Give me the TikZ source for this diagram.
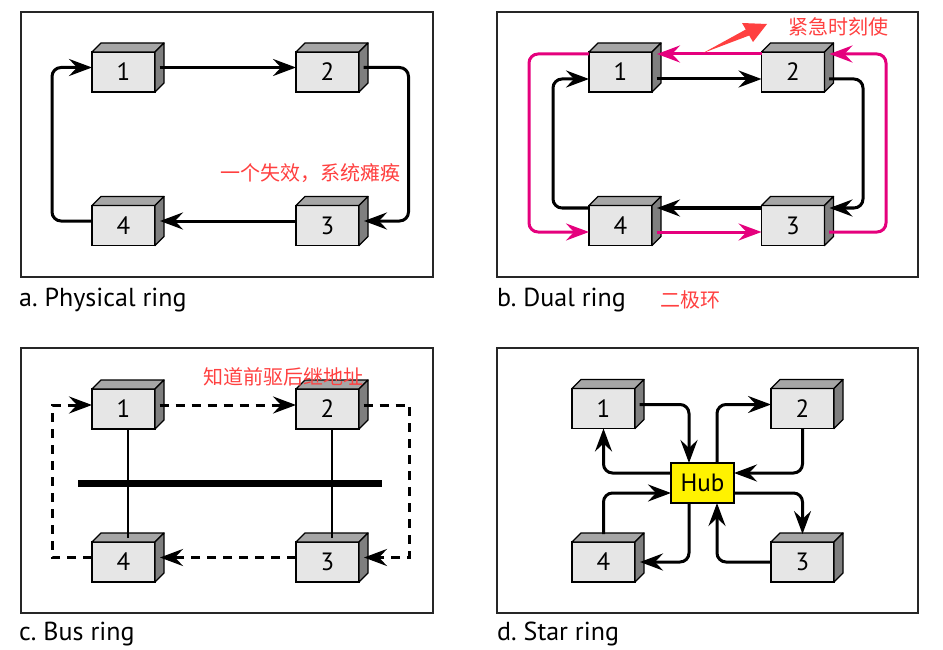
\documentclass[tikz,border=0pt]{standalone}
\usepackage{fontspec}
\setmainfont{PT Sans}
\newfontfamily\cjk{Noto Sans CJK SC}
\usetikzlibrary{arrows.meta}
\frenchspacing
\definecolor{boxfront}{HTML}{E6E6E6}
\definecolor{boxtop}{HTML}{A6A6A6}
\definecolor{boxside}{HTML}{7F7F7F}
\definecolor{ringpink}{HTML}{E5007D}
\definecolor{notered}{HTML}{FF4040}
\tikzset{
  station/.style={rectangle, draw, fill=boxfront, line width=1.3pt, minimum width=63pt, minimum height=40pt, inner sep=0pt, outer sep=0pt, font=\fontsize{25}{25}\selectfont},
  hubbox/.style={station, fill=yellow},
  link/.style={line width=3pt, line join=round, rounded corners=9pt, -{Stealth[length=23pt,width=17pt,inset=8pt]}},
  pinklink/.style={link, draw=ringpink, color=ringpink},
  dashlink/.style={link, rounded corners=0pt, line join=miter, dash pattern=on 9pt off 7pt},
  tap/.style={line width=2.2pt},
  bus/.style={line width=7pt},
  frame/.style={draw=black!85, line width=1.5pt},
  caption/.style={anchor=base west, inner sep=0pt, font=\fontsize{26}{26}\selectfont},
  note/.style={text=notered, inner sep=0pt, font=\cjk\fontsize{20}{20}\selectfont}
}
\begin{document}
\begin{tikzpicture}[x=1pt, y=-1pt]
      \useasboundingbox (0,0) rectangle (943,650);
      \draw[frame] (21,12) rectangle (433,277);
      \draw[frame] (497,12) rectangle (918,277);
      \draw[frame] (21,348) rectangle (433,613);
      \draw[frame] (497,348) rectangle (918,613);

      \node (a1) at (123.5,72) [station] {1};
      \node (a2) at (327.5,72) [station] {2};
      \node (a3) at (327.5,225.5) [station] {3};
      \node (a4) at (123.5,225.5) [station] {4};
      \node (b1) at (620.5,72) [station] {1};
      \node (b2) at (793,72) [station] {2};
      \node (b3) at (793,225.5) [station] {3};
      \node (b4) at (620.5,225.5) [station] {4};
      \node (c1) at (123.5,409) [station] {1};
      \node (c2) at (327.5,409) [station] {2};
      \node (c3) at (327.5,562) [station] {3};
      \node (c4) at (123.5,562) [station] {4};
      \node (d1) at (603.5,408.5) [station] {1};
      \node (d2) at (802.5,408.5) [station] {2};
      \node (d3) at (802.5,562) [station] {3};
      \node (d4) at (603.5,562) [station] {4};
      \node (hub) at (702.5,483) [hubbox] {Hub};
      \foreach \n in {a1,a2,a3,a4,b1,b2,b3,b4,c1,c2,c3,c4,d1,d2,d3,d4} {
        \draw[fill=boxtop, line width=1.3pt, line join=round] (\n.north west) -- ++(9,-9) -- ++(63,0) -- (\n.north east) -- cycle;
        \draw[fill=boxside, line width=1.3pt, line join=round] (\n.north east) -- ++(9,-9) -- ++(0,40) -- (\n.south east) -- cycle;
      }

      % a. physical ring
      \draw[link] ([shift={(4.5pt,4.5pt)}]a1.east) -- ([yshift=4.5pt]a2.west);
      \draw[link] ([shift={(4.5pt,4.5pt)}]a2.east) -- ++(45,0) |- ([shift={(5pt,4.5pt)}]a3.east);
      \draw[link] ([yshift=4.5pt]a3.west) -- ([shift={(5pt,4.5pt)}]a4.east);
      \draw[link] ([yshift=4.5pt]a4.west) -- ++(-40,0) |- ([yshift=4.5pt]a1.west);
      \node (failnote) at (310,173) [note] {一个失效，系统瘫痪};
      \node (capa) at (19,306) [caption] {a. Physical ring};

      % b. dual ring
      \draw[link] ([shift={(4.5pt,-7pt)}]b1.east) -- ([yshift=-7pt]b2.west);
      \draw[link] ([shift={(4.5pt,-7pt)}]b2.east) -- ++(34,0) |- ([shift={(5pt,17.5pt)}]b3.east);
      \draw[link] ([yshift=17.5pt]b3.west) -- ([shift={(5pt,17.5pt)}]b4.east);
      \draw[link] ([yshift=17.5pt]b4.west) -- ++(-36,0) |- ([yshift=-7pt]b1.west);
      \draw[pinklink] ([yshift=18pt]b2.west) -- ([shift={(5pt,18pt)}]b1.east);
      \draw[pinklink] ([yshift=18pt]b1.west) -- ++(-60,0) |- ([yshift=-6.5pt]b4.west);
      \draw[pinklink] ([shift={(4.5pt,-6.5pt)}]b4.east) -- ([yshift=-6.5pt]b3.west);
      \draw[pinklink] ([shift={(4.5pt,-6.5pt)}]b3.east) -- ++(57,0) |- ([shift={(5pt,18pt)}]b2.east);
      \fill[notered] (703,53) -- (745.8,29.5) -- (742,23) -- (767,24) -- (753,42) -- (749.2,35.5) -- cycle;
      \node (urgentnote) at (838,27) [note] {紧急时刻使};
      \node (dualnote) at (690,300) [note] {二极环};
      \node (capb) at (497,306) [caption] {b. Dual ring};

      % c. bus ring
      \coordinate (busL) at (78,483);
      \coordinate (busR) at (382,483);
      \draw[bus] (busL) -- (busR);
      \draw[tap] ([xshift=4.5pt]c1.south) -- ([shift={(4.5pt,4pt)}]c4.north);
      \draw[tap] ([xshift=4.5pt]c2.south) -- ([shift={(4.5pt,4pt)}]c3.north);
      \draw[dashlink] ([shift={(4.5pt,4pt)}]c1.east) -- ([yshift=4pt]c2.west);
      \draw[dashlink] ([shift={(4.5pt,4pt)}]c2.east) -- ++(46,0) |- ([shift={(5pt,4.5pt)}]c3.east);
      \draw[dashlink] ([yshift=4.5pt]c3.west) -- ([shift={(5pt,4.5pt)}]c4.east);
      \draw[dashlink] ([yshift=4.5pt]c4.west) -- ++(-40,0) |- ([yshift=4pt]c1.west);
      \node (addrnote) at (283,377) [note] {知道前驱后继地址};
      \node (capc) at (19,640) [caption] {c. Bus ring};

      % d. star ring
      \draw[link] ([shift={(4.5pt,4pt)}]d1.east) -| ([xshift=-13.5pt]hub.north);
      \draw[link] ([yshift=10pt]hub.west) -| (d1.south);
      \draw[link] ([xshift=14.5pt]hub.north) |- ([yshift=4pt]d2.west);
      \draw[link] (d2.south) |- ([yshift=10pt]hub.east);
      \draw[link] ([yshift=-10pt]hub.east) -| ([yshift=8pt]d3.north);
      \draw[link] (d3.west) -| ([xshift=14.5pt]hub.south);
      \draw[link] ([yshift=8pt]d4.north) |- ([yshift=-10pt]hub.west);
      \draw[link] ([xshift=-13.5pt]hub.south) |- ([xshift=5pt]d4.east);
      \node (capd) at (497,640) [caption] {d. Star ring};
\end{tikzpicture}
\end{document}
